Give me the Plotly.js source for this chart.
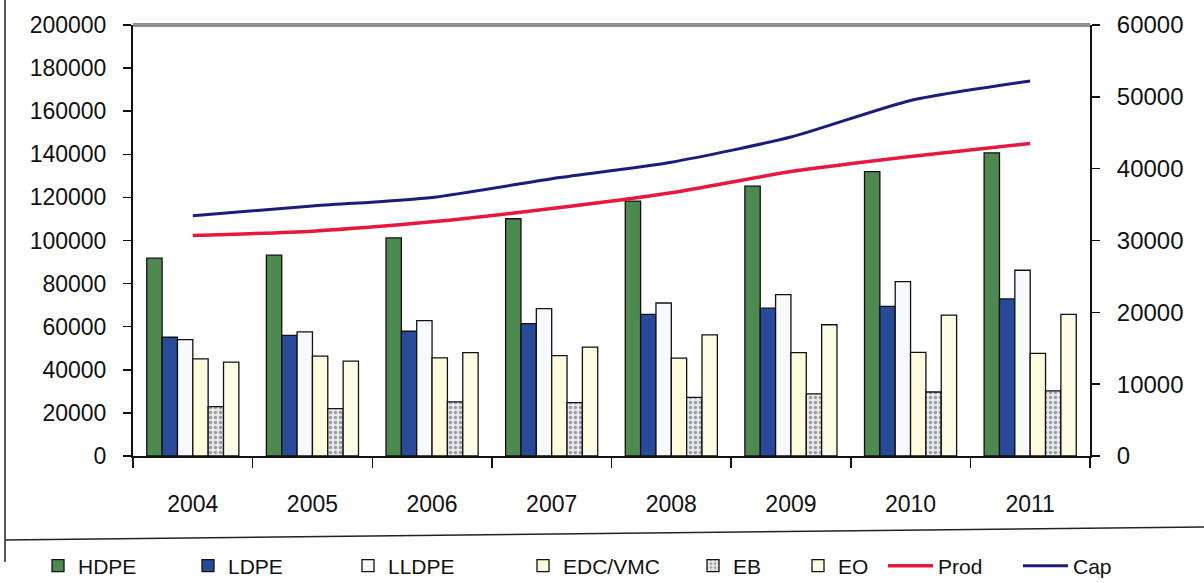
<!DOCTYPE html>
<html>
<head>
<meta charset="utf-8">
<script src="https://cdn.plot.ly/plotly-3.0.1.min.js"></script>
<style>
  html, body { margin: 0; padding: 0; background: #fff; }
  #chart { width: 1204px; height: 583px; }
</style>
</head>
<body>
<div id="chart"></div>
<script>
// ---- data ----
const years = ['2004', '2005', '2006', '2007', '2008', '2009', '2010', '2011'];
const hdpe  = [91800, 93200, 101200, 110100, 118300, 125200, 132000, 140700];
const ldpe  = [55100, 56000, 57900, 61400, 65700, 68600, 69400, 72900];
const lldpe = [54000, 57600, 62800, 68400, 71000, 74900, 80900, 86200];
const edcVmc = [45100, 46300, 45500, 46600, 45400, 48000, 48100, 47600];
const eb    = [22900, 22000, 25100, 24800, 27200, 28800, 29700, 30200];
const eo    = [43600, 44000, 48000, 50500, 56200, 60900, 65400, 65700];
const prod  = [30700, 31300, 32600, 34450, 36650, 39600, 41700, 43500];
const cap   = [33450, 34800, 36000, 38600, 40900, 44400, 49500, 52200];
const leftTicks = [0, 20000, 40000, 60000, 80000, 100000, 120000, 140000, 160000, 180000, 200000];
const rightTicks = [0, 10000, 20000, 30000, 40000, 50000, 60000];

const FONT = '"Liberation Sans", Arial, sans-serif';
const TXT = '#111';
const outline = { color: '#111', width: 1.3 };

function bar(name, y, color, legend, pattern) {
  const m = { color: color, line: outline };
  if (pattern) m.pattern = pattern;
  return { type: 'bar', name: name, x: years, y: y, marker: m, yaxis: 'y', legend: legend };
}

const traces = [
  bar('HDPE', hdpe, '#4e8a50', 'legend'),
  bar('LDPE', ldpe, '#284a98', 'legend2'),
  bar('LLDPE', lldpe, '#f8f9fc', 'legend3'),
  bar('EDC/VMC', edcVmc, '#fffbdf', 'legend4'),
  bar('EB', eb, '#e6e7ea', 'legend5', { shape: '.', fgcolor: '#9a9ca3', bgcolor: '#e8e9ec', size: 5, solidity: 0.35 }),
  bar('EO', eo, '#fdfde6', 'legend6'),
  { type: 'scatter', mode: 'lines', name: 'Prod', x: years, y: prod, yaxis: 'y2', legend: 'legend7',
    line: { color: '#e8173f', width: 3.5, shape: 'spline', smoothing: 0.6 } },
  { type: 'scatter', mode: 'lines', name: 'Cap', x: years, y: cap, yaxis: 'y2', legend: 'legend8',
    line: { color: '#1c1c7a', width: 3, shape: 'spline', smoothing: 0.6 } }
];

// plot area: left 133, right 1090, top 25, bottom 456 (pixels)
const L = 133, R = 1090, T = 25, B = 456;
const W = R - L, H = B - T;
const px = X => (X - L) / W;
const py = Y => (B - Y) / H;

// legend entry placement (container fractions)
function leg(textX, iw) {
  return {
    orientation: 'h', xref: 'container', yref: 'container',
    x: (textX - (iw + 12)) / 1204, xanchor: 'left',
    y: (583 - 566) / 583, yanchor: 'middle',
    font: { family: FONT, size: 21, color: TXT }, itemwidth: iw,
    bgcolor: 'rgba(0,0,0,0)', borderwidth: 0
  };
}

// inner halves of the crossing tick marks
const boundaryTicks = years.map((_, i) => i - 0.5).concat([years.length - 0.5]);
const innerTicks = { ticks: 'inside', ticklen: 7, tickwidth: 1.5, tickcolor: '#111',
  showticklabels: false, showline: false, showgrid: false, zeroline: false };

const layout = {
  width: 1204, height: 583,
  margin: { l: L, r: 1204 - R, t: T, b: 583 - B, pad: 0, autoexpand: false },
  paper_bgcolor: '#ffffff', plot_bgcolor: '#ffffff',
  font: { family: FONT, color: TXT, size: 21 },
  barmode: 'group', bargap: 0.23, bargroupgap: 0,
  showlegend: true,
  legend: leg(80, 30),
  legend2: leg(230, 30),
  legend3: leg(390, 30),
  legend4: leg(565, 30),
  legend5: leg(735, 30),
  legend6: leg(840, 30),
  legend7: leg(940, 45),
  legend8: leg(1075, 45),
  xaxis: {
    type: 'category', showgrid: false, zeroline: false,
    showline: true, linecolor: '#111', linewidth: 2,
    ticks: 'outside', tickson: 'boundaries', ticklen: 10, tickwidth: 1.5, tickcolor: '#111',
    ticklabelstandoff: 26,
    tickfont: { family: FONT, size: 23, color: TXT }
  },
  xaxis2: Object.assign({ overlaying: 'x', anchor: 'y', side: 'bottom', type: 'linear',
    range: [-0.5, years.length - 0.5], tickvals: boundaryTicks }, innerTicks, { ticklen: 6 }),
  yaxis: {
    range: [0, 200000], tickvals: leftTicks, ticktext: leftTicks.map(String),
    showgrid: false, zeroline: false,
    showline: true, linecolor: '#111', linewidth: 2,
    ticks: 'outside', ticklen: 8, tickwidth: 1.5, tickcolor: '#111',
    ticklabelstandoff: 12,
    tickfont: { family: FONT, size: 23, color: TXT }
  },
  yaxis2: {
    overlaying: 'y', side: 'right', range: [0, 60000],
    tickvals: rightTicks, ticktext: rightTicks.map(String),
    showgrid: false, zeroline: false,
    showline: true, linecolor: '#111', linewidth: 2,
    ticks: 'outside', ticklen: 8, tickwidth: 1.5, tickcolor: '#111',
    ticklabelstandoff: 12,
    tickfont: { family: FONT, size: 24, color: TXT }
  },
  yaxis3: Object.assign({ overlaying: 'y', side: 'left', anchor: 'x', range: [0, 200000],
    tickvals: leftTicks }, innerTicks),
  yaxis4: Object.assign({ overlaying: 'y', side: 'right', anchor: 'x', range: [0, 60000],
    tickvals: rightTicks }, innerTicks),
  shapes: [
    // grey top border of the plot area
    { type: 'line', xref: 'paper', yref: 'paper', x0: 0, x1: 1, y0: 1, y1: 1,
      line: { color: '#8e8e8e', width: 4 } },
    // outer chart frame: left edge and line above the legend
    { type: 'line', xref: 'paper', yref: 'paper', x0: px(5), x1: px(5), y0: py(0), y1: py(562),
      line: { color: '#222', width: 1.5 } },
    { type: 'line', xref: 'paper', yref: 'paper', x0: px(5), x1: px(1204), y0: py(540), y1: py(527),
      line: { color: '#222', width: 1.5 } }
  ]
};

Plotly.newPlot('chart', traces, layout, { displayModeBar: false, staticPlot: true });
</script>
</body>
</html>
